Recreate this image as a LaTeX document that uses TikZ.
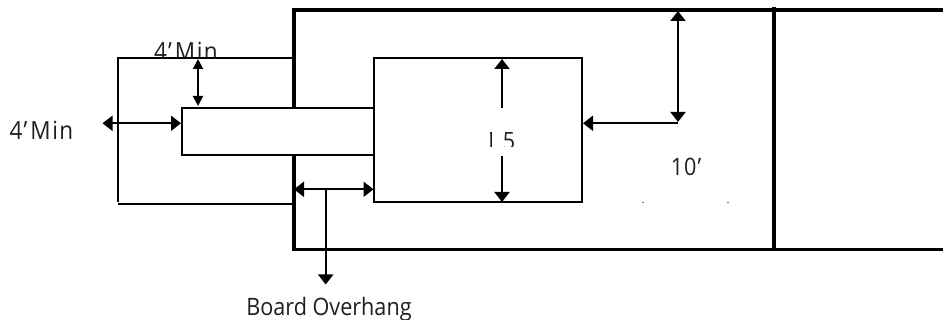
\documentclass[tikz,border=0pt]{standalone}
\usepackage{fontspec}
\newfontfamily\labelfont[FakeStretch=0.9]{Open Sans}
\usetikzlibrary{arrows.meta,calc}
\tikzset{
  x=1pt,y=-1pt,
  heavy/.style={line width=3.6pt,line cap=butt,line join=miter},
  thin line/.style={line width=2pt,line join=miter},
  dim/.style={line width=2pt,{Triangle[length=10pt,width=15pt]}-{Triangle[length=10pt,width=15pt]}},
  dimnarrow/.style={line width=2pt,{Triangle[length=10pt,width=10pt]}-{Triangle[length=10pt,width=10pt]}},
  dimend/.style={line width=2pt,-{Triangle[length=10pt,width=15pt]}},
  label/.style={inner sep=0pt,font=\labelfont\fontsize{24}{28}\selectfont,text=black!88},
  mask/.style={fill=white,draw=none},
  speck/.style={fill=black!55,draw=none}
}
\newcommand{\minlabel}{4\kern1pt’\kern3pt M\kern1.5pt i\kern1.5pt n}
\begin{document}
\begin{tikzpicture}
\useasboundingbox (0,0) rectangle (943,320);
% labels partly covered
\node[label,font=\labelfont\fontsize{25}{28}\selectfont] (minTop) at (186,51.5) {\minlabel};
\fill[mask] (140,58) rectangle (260,80);
\node[label] (mid) at (500,141) {1\kern6pt 5};
\fill[mask] (470,120) rectangle (530,132);
\fill[mask] (470,147) rectangle (530,160);
\fill[mask] (480,130) rectangle (490.3,138);
\node[label,font=\labelfont\fontsize{25}{28}\selectfont] (minLeft) at (41.5,130.5) {\minlabel};
\node[label] (ten) at (686,167) {1\kern1pt 0\kern1pt ’};
\node[label] (over) at (329,309) {Board Overhang};
% named points
\coordinate (tl) at (294,10);
\coordinate (tr) at (943,10);
\coordinate (bl) at (294,249.5);
\coordinate (br) at (943,249.5);
\coordinate (divT) at (774,7);
\coordinate (divB) at (774,251);
\coordinate (wa) at (294,58);
\coordinate (wb) at (118,58);
\coordinate (wc) at (118,202);
\coordinate (wd) at (118,204.3);
\coordinate (we) at (294,204.3);
\coordinate (sqTL) at (374,58);
\coordinate (sqBR) at (582,202);
\coordinate (tgTL) at (182,108);
\coordinate (tgBR) at (374,155);
\coordinate (p1) at (198,59);
\coordinate (p2) at (198,106);
\coordinate (p3) at (102.5,123.3);
\coordinate (p4) at (181,123.3);
\coordinate (p5) at (294,189.3);
\coordinate (p6) at (373.5,189.3);
\coordinate (p7) at (325.7,189.3);
\coordinate (p8) at (325.7,284.5);
\coordinate (p9) at (502,59);
\coordinate (p10) at (502,108);
\coordinate (p11) at (502,156);
\coordinate (p12) at (502,202);
\coordinate (p13) at (678,11);
\coordinate (p14) at (678,122);
\coordinate (p15) at (583,123.3);
\coordinate (p16) at (678,123.3);
\coordinate (s1) at (643,203);
\coordinate (s2) at (728,203);
% walls
\draw[heavy] (tr) -- (tl) -- (bl) -- (br);
\draw[heavy] (divT) -- (divB);
\draw[thin line] (wa) -- (wb) -- (wc);
\draw[thin line] (wd) -- (we);
% pad and board
\draw[thin line,fill=white] (tgTL) rectangle (tgBR);
\draw[thin line] (sqTL) rectangle (sqBR);
% dimensions
\draw[dimnarrow] (p1) -- (p2);
\draw[dim] (p3) -- (p4);
\draw[dim] (p5) -- (p6);
\draw[dimend] (p7) -- (p8);
\draw[dimend] (p10) -- (p9);
\draw[dimend] (p11) -- (p12);
\draw[dim] (p13) -- (p14);
\draw[dimend] (p16) -- (p15);
% specks
\fill[speck] ($(s1)+(-1,-.5)$) rectangle ($(s1)+(1,.5)$);
\fill[speck] ($(s2)+(-1,-.5)$) rectangle ($(s2)+(1,.5)$);
\end{tikzpicture}
\end{document}
